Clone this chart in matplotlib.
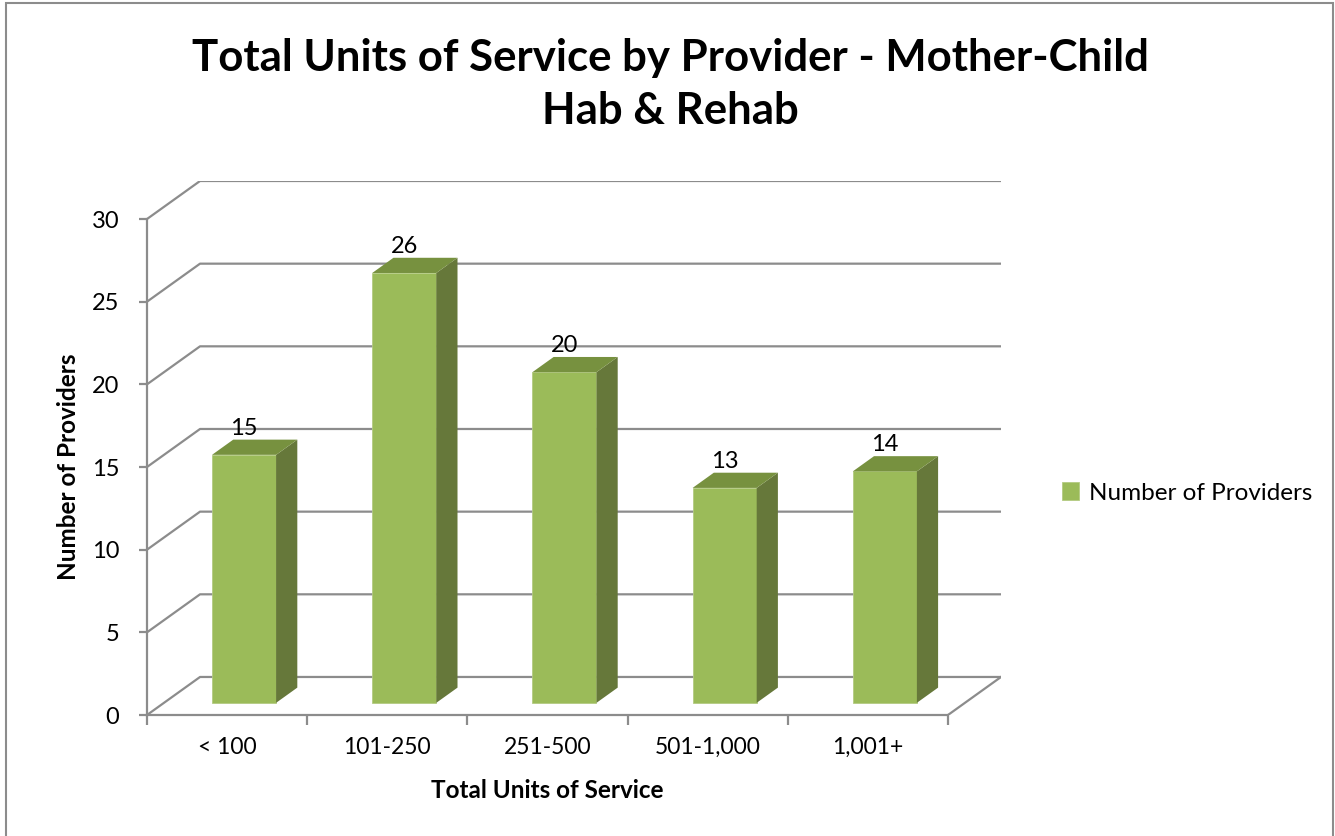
import numpy as np
import matplotlib.pyplot as plt
from matplotlib.patches import Polygon, Rectangle

# dati del grafico
categories = ["< 100", "101-250", "251-500", "501-1,000", "1,001+"]
providers = [15, 26, 20, 13, 14]
y_ticks = [0, 5, 10, 15, 20, 25, 30]
series_name = "Number of Providers"

# colori stile Excel
front_col = "#9bbb59"
side_col = "#66783a"
top_col = "#77913f"
grid_col = "#8c8c8c"

# offset della profondita' (finto 3D) in unita' dati
DX = 0.331
DY = 2.30
z0 = 0.32      # profondita' della faccia frontale delle barre
zd = 0.40      # spessore delle barre
bar_w = 0.4

plt.rcParams["font.family"] = ["Lato", "DejaVu Sans"]

fig = plt.figure(figsize=(13.35, 8.36), dpi=100)
ax = fig.add_axes([147 / 1335, 121 / 836, 854 / 1335, 534 / 836])
ax.set_xlim(0, len(categories) + DX)
ax.set_ylim(0, y_ticks[-1] + DY)

# cornice esterna
fig.patches.append(Rectangle((6 / 1335, -0.01), 1327 / 1335, 1.01 - 3 / 836,
                             transform=fig.transFigure, fill=False,
                             edgecolor="#8c8c8c", linewidth=1.5))

# griglia: diagonale sulla parete sinistra + orizzontale sulla parete di fondo
n = len(categories)
for v in y_ticks:
    ax.plot([0, DX, n + DX], [v, v + DY, v + DY], color=grid_col,
            linewidth=1.6, zorder=1, solid_capstyle="butt")
# bordo destro del pavimento
ax.plot([n, n + DX], [0, DY], color=grid_col, linewidth=1.6, zorder=1)

# barre: faccia frontale
xs = np.arange(n) + 0.5 + z0 * DX
base = z0 * DY
bars = ax.bar(xs, providers, width=bar_w, bottom=base, color=front_col,
              edgecolor="#b3cb82", linewidth=0.6, zorder=3, label=series_name)

for x, v in zip(xs, providers):
    xl = x - bar_w / 2
    xr = x + bar_w / 2
    top = base + v
    side = Polygon([(xr, base), (xr + zd * DX, base + zd * DY),
                    (xr + zd * DX, top + zd * DY), (xr, top)],
                   closed=True, facecolor=side_col, edgecolor="none", zorder=3)
    lid = Polygon([(xl, top), (xr, top), (xr + zd * DX, top + zd * DY),
                   (xl + zd * DX, top + zd * DY)],
                  closed=True, facecolor=top_col, edgecolor="none", zorder=3)
    ax.add_patch(side)
    ax.add_patch(lid)
    ax.text(x, top + zd * DY + 0.05, str(v), ha="center", va="bottom",
            fontsize=17, zorder=4)

# assi
for s in ["top", "right"]:
    ax.spines[s].set_visible(False)
ax.spines["left"].set_bounds(0, y_ticks[-1])
ax.spines["bottom"].set_bounds(0, n)
for s in ["left", "bottom"]:
    ax.spines[s].set_color(grid_col)
    ax.spines[s].set_linewidth(1.6)

ax.set_yticks(y_ticks)
ax.set_yticklabels([str(t) for t in y_ticks], fontsize=17)
ax.set_xticks(np.arange(n + 1))
ax.set_xticklabels([])
ax.set_xticks(np.arange(n) + 0.5, minor=True)
ax.set_xticklabels(categories, minor=True, fontsize=16.5)
ax.tick_params(axis="y", direction="out", length=6, width=1.6, color=grid_col, pad=14)
ax.tick_params(axis="x", which="major", direction="out", length=7, width=1.6, color=grid_col)
ax.tick_params(axis="x", which="minor", length=0, pad=16)

ax.set_xlabel("Total Units of Service", fontsize=17.5, fontweight="bold")
ax.xaxis.set_label_coords(2.5 / (n + DX), -0.12)
ax.set_ylabel("Number of Providers", fontsize=17.5, fontweight="bold")
ax.yaxis.set_label_coords(-0.078, 15 / (y_ticks[-1] + DY))

fig.text(0.502, 0.899, "Total Units of Service by Provider - Mother-Child\nHab & Rehab",
         ha="center", va="center", fontsize=31.5, fontweight="bold", linespacing=1.38)

fig.legend(handles=[bars], labels=[series_name], loc="center left",
           bbox_to_anchor=(1040 / 1335, 1 - 493 / 836), frameon=False,
           fontsize=17.5, handlelength=0.7, handleheight=0.7, handletextpad=0.4)

fig.savefig("out.png", dpi=100)
